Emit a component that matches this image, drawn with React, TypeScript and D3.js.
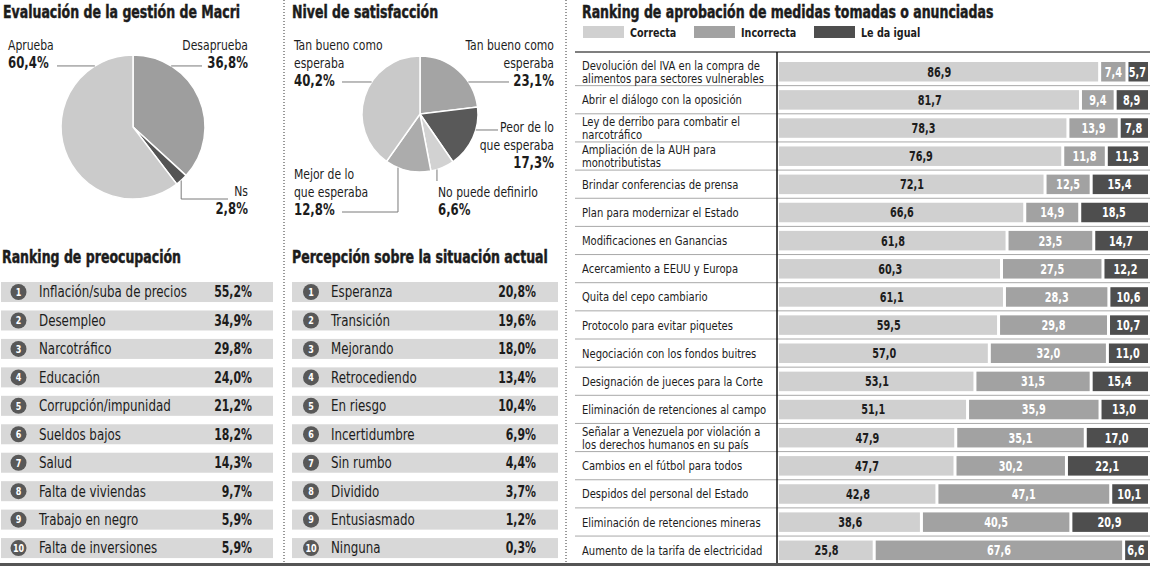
import { useEffect, useRef } from 'react';
import * as d3 from 'd3';

// Palette
const INK = "#1c1c1c";
const SHADE_LIGHT = "#d0d0d0";
const SHADE_MID = "#a2a2a2";
const SHADE_DARK = "#4e4e4e";
const ROW_BG = "#d8d8d8";
const BADGE = "#585858";
const RULE = "#a8a8a8";
const FONT = "'Liberation Sans Narrow', 'DejaVu Sans Condensed', 'Roboto Condensed', 'Open Sans', sans-serif";

// horizontal squeeze per text style, to get a condensed face out of a regular one
const SQ_TITLE = 0.82;
const SQ_LABEL = 0.88;
const SQ_VALUE = 0.81;
const SQ_TABLE = 0.89;
const SQ_BAR = 0.8;

const W = 1150;
const H = 566;

// Evaluación de la gestión de Macri
const gestionLabels = [["Desaprueba"], ["Ns"], ["Aprueba"]];
const gestionValues = [36.8, 2.8, 60.4];
const gestionColors = ["#9e9e9e", "#545454", "#cbcbcb"];

// Nivel de satisfacción
const satisfLabels = [
  ["Tan bueno como", "esperaba"],
  ["Peor de lo", "que esperaba"],
  ["No puede definirlo"],
  ["Mejor de lo", "que esperaba"],
  ["Tan bueno como", "esperaba"],
];
const satisfValues = [23.1, 17.3, 6.6, 12.8, 40.2];
const satisfColors = ["#a4a4a4", "#595959", "#d2d2d2", "#acacac", "#c9c9c9"];

// Ranking de preocupación
const preocupacionLabels = [
  "Inflación/suba de precios", "Desempleo", "Narcotráfico", "Educación",
  "Corrupción/impunidad", "Sueldos bajos", "Salud", "Falta de viviendas",
  "Trabajo en negro", "Falta de inversiones",
];
const preocupacionValues = [55.2, 34.9, 29.8, 24.0, 21.2, 18.2, 14.3, 9.7, 5.9, 5.9];

// Percepción sobre la situación actual
const percepcionLabels = [
  "Esperanza", "Transición", "Mejorando", "Retrocediendo", "En riesgo",
  "Incertidumbre", "Sin rumbo", "Dividido", "Entusiasmado", "Ninguna",
];
const percepcionValues = [20.8, 19.6, 18.0, 13.4, 10.4, 6.9, 4.4, 3.7, 1.2, 0.3];

// Ranking de aprobación de medidas
const medidasLabels = [
  ["Devolución del IVA en la compra de", "alimentos para sectores vulnerables"],
  ["Abrir el diálogo con la oposición"],
  ["Ley de derribo para combatir el", "narcotráfico"],
  ["Ampliación de la AUH para", "monotributistas"],
  ["Brindar conferencias de prensa"],
  ["Plan para modernizar el Estado"],
  ["Modificaciones en Ganancias"],
  ["Acercamiento a EEUU y Europa"],
  ["Quita del cepo cambiario"],
  ["Protocolo para evitar piquetes"],
  ["Negociación con los fondos buitres"],
  ["Designación de jueces para la Corte"],
  ["Eliminación de retenciones al campo"],
  ["Señalar a Venezuela por violación a", "los derechos humanos en su país"],
  ["Cambios en el fútbol para todos"],
  ["Despidos del personal del Estado"],
  ["Eliminación de retenciones mineras"],
  ["Aumento de la tarifa de electricidad"],
];
const correcta = [86.9, 81.7, 78.3, 76.9, 72.1, 66.6, 61.8, 60.3, 61.1, 59.5, 57.0, 53.1, 51.1, 47.9, 47.7, 42.8, 38.6, 25.8];
const incorrecta = [7.4, 9.4, 13.9, 11.8, 12.5, 14.9, 23.5, 27.5, 28.3, 29.8, 32.0, 31.5, 35.9, 35.1, 30.2, 47.1, 40.5, 67.6];
const leDaIgual = [5.7, 8.9, 7.8, 11.3, 15.4, 18.5, 14.7, 12.2, 10.6, 10.7, 11.0, 15.4, 13.0, 17.0, 22.1, 10.1, 20.9, 6.6];
const seriesNames = ["Correcta", "Incorrecta", "Le da igual"];
const seriesColors = [SHADE_LIGHT, SHADE_MID, SHADE_DARK];

const fmt = (v: number) => d3.format(".1f")(v).replace(".", ",");
const pct = (v: number) => fmt(v) + "%";

// where each pie callout sits: angle on the rim (deg), text anchor and leader legs
const gestionNotes = [
  { x: 248, y: 50, anchor: "end", angle: 32, legs: [["h", 202]] },
  { x: 248, y: 196, anchor: "end", angle: 138, legs: [["v", 199], ["h", 228]] },
  { x: 8, y: 50, anchor: "start", angle: 328, legs: [["h", 57]] },
];
const satisfNotes = [
  { x: 554, y: 50, anchor: "end", angle: 56.5, legs: [["h", 509]] },
  { x: 554, y: 132, anchor: "end", angle: 106, legs: [["h", 498]] },
  { x: 438, y: 197, anchor: "start", angle: 163, legs: [["v", 181]] },
  { x: 294, y: 179, anchor: "start", angle: 202.3, legs: [["v", 212], ["h", 342]] },
  { x: 294, y: 50, anchor: "start", angle: 303.5, legs: [["h", 342]] },
];

// squeeze text horizontally around its own x anchor
function squeeze(sel: any, k: number) {
  sel.attr("transform", function (this: any) {
    const x = +this.getAttribute("x") || 0;
    return `translate(${x},0) scale(${k},1) translate(${-x},0)`;
  });
}

function title(svg: any, x: number, y: number, text: string) {
  const t = svg.append("text")
    .attr("x", x).attr("y", y)
    .attr("font-size", 17).attr("font-weight", 700)
    .attr("fill", INK)
    .attr("stroke", INK).attr("stroke-width", 0.45)
    .text(text);
  squeeze(t, SQ_TITLE);
}

function drawPie(svg: any, cx: number, cy: number, r: number, values: number[], colors: string[], labels: string[][], notes: any[]) {
  const pie = d3.pie<number>().sort(null).value(d => d);
  const arc = d3.arc<any>().innerRadius(0).outerRadius(r);
  const g = svg.append("g").attr("transform", `translate(${cx},${cy})`);

  g.selectAll("path")
    .data(pie(values))
    .join("path")
    .attr("d", arc)
    .attr("fill", (_: any, i: number) => colors[i])
    .attr("stroke", "#fff")
    .attr("stroke-width", 1.5);

  notes.forEach((n, i) => {
    const a = (n.angle * Math.PI) / 180;
    let px = cx + r * Math.sin(a);
    let py = cy - r * Math.cos(a);
    const pts: [number, number][] = [[px, py]];
    n.legs.forEach(([dir, to]: [string, number]) => {
      if (dir === "h") px = to; else py = to;
      pts.push([px, py]);
    });
    svg.append("path")
      .attr("d", d3.line()(pts))
      .attr("fill", "none")
      .attr("stroke", "#7a7a7a")
      .attr("stroke-width", 1);

    const t = svg.append("text")
      .attr("x", n.x).attr("y", n.y)
      .attr("text-anchor", n.anchor)
      .attr("fill", INK)
      .attr("font-size", 14);
    labels[i].forEach((line, k) => {
      t.append("tspan").attr("x", n.x).attr("dy", k === 0 ? 0 : 18).text(line);
    });
    squeeze(t, 0.86);
    const v = svg.append("text")
      .attr("x", n.x).attr("y", n.y + labels[i].length * 18)
      .attr("text-anchor", n.anchor)
      .attr("fill", INK)
      .attr("font-size", 15).attr("font-weight", 700)
      .text(pct(values[i]));
    squeeze(v, 0.87);
  });
}

function drawRanking(svg: any, x0: number, x1: number, badgeX: number, labelX: number, valueX: number, labels: string[], values: number[]) {
  const y = d3.scaleBand<number>().domain(d3.range(labels.length)).range([277.8, 562.3]);
  const rows = svg.append("g")
    .selectAll("g")
    .data(labels)
    .join("g")
    .attr("transform", (_: any, i: number) => `translate(0,${y(i)! + y.bandwidth() / 2})`);

  rows.append("rect")
    .attr("x", x0).attr("y", -10)
    .attr("width", x1 - x0).attr("height", 20)
    .attr("fill", ROW_BG);

  rows.append("circle")
    .attr("cx", badgeX).attr("r", 8)
    .attr("fill", BADGE);

  const num = rows.append("text")
    .attr("x", badgeX).attr("dy", "0.36em")
    .attr("text-anchor", "middle")
    .attr("fill", "#fff")
    .attr("font-size", 10.5).attr("font-weight", 700)
    .text((_: any, i: number) => i + 1);
  squeeze(num, 0.85);

  const lab = rows.append("text")
    .attr("x", labelX).attr("dy", "0.36em")
    .attr("fill", INK)
    .attr("font-size", 15)
    .text((d: string) => d);
  squeeze(lab, SQ_LABEL);

  const val = rows.append("text")
    .attr("x", valueX).attr("dy", "0.36em")
    .attr("text-anchor", "end")
    .attr("fill", INK)
    .attr("font-size", 15).attr("font-weight", 700)
    .text((_: any, i: number) => pct(values[i]));
  squeeze(val, SQ_VALUE);
}

function drawMedidas(svg: any) {
  const tableTop = 52;
  const axisX = 777;
  const y = d3.scaleBand<number>().domain(d3.range(medidasLabels.length)).range([57, 563.7]);
  const x = d3.scaleLinear().domain([0, 100]).range([779, 1148]);

  // legend
  const legendX = [583, 694, 814];
  seriesNames.forEach((name, i) => {
    svg.append("rect")
      .attr("x", legendX[i]).attr("y", 26)
      .attr("width", 41).attr("height", 12)
      .attr("fill", seriesColors[i]);
    const t = svg.append("text")
      .attr("x", legendX[i] + 47).attr("y", 37)
      .attr("fill", INK)
      .attr("font-size", 13).attr("font-weight", 700)
      .text(name);
    squeeze(t, 0.82);
  });

  // row separators
  svg.append("g")
    .selectAll("line")
    .data(d3.range(1, medidasLabels.length))
    .join("line")
    .attr("x1", 575).attr("x2", W)
    .attr("y1", (i: number) => y(i)! + 0.5).attr("y2", (i: number) => y(i)! + 0.5)
    .attr("stroke", RULE).attr("stroke-width", 1);

  svg.append("line")
    .attr("x1", 575).attr("x2", W)
    .attr("y1", tableTop).attr("y2", tableTop)
    .attr("stroke", "#555").attr("stroke-width", 1.5);

  const stacked = d3.stack<number>()
    .keys(["0", "1", "2"])
    .value((i, key) => [correcta, incorrecta, leDaIgual][+key][i])(d3.range(medidasLabels.length));

  stacked.forEach((layer, s) => {
    const g = svg.append("g");
    g.selectAll("rect")
      .data(layer)
      .join("rect")
      .attr("x", (d: any) => x(d[0]) + (s > 0 ? 1.5 : 0))
      .attr("y", (_: any, i: number) => y(i)! + 5)
      .attr("width", (d: any) => x(d[1]) - x(d[0]) - (s > 0 ? 1.5 : 0) - (s < 2 ? 1.5 : 0))
      .attr("height", 19.5)
      .attr("fill", seriesColors[s]);
    const t = g.selectAll("text")
      .data(layer)
      .join("text")
      .attr("x", (d: any) => (x(d[0]) + x(d[1])) / 2)
      .attr("y", (_: any, i: number) => y(i)! + 14.75)
      .attr("dy", "0.36em")
      .attr("text-anchor", "middle")
      .attr("fill", s === 0 ? INK : "#fff")
      .attr("font-size", 13.5).attr("font-weight", 700)
      .text((d: any) => fmt(d[1] - d[0]));
    squeeze(t, SQ_BAR);
  });

  // row labels, one or two lines each
  const labels = svg.append("g")
    .selectAll("text")
    .data(medidasLabels)
    .join("text")
    .attr("x", 582)
    .attr("fill", INK)
    .attr("font-size", 12.5)
    .attr("y", (d: string[], i: number) => y(i)! + 14.75 - (d.length - 1) * 6.5);
  labels.each(function (this: any, d: string[]) {
    const t = d3.select(this);
    d.forEach((line, k) => {
      t.append("tspan").attr("x", 582).attr("dy", k === 0 ? "0.36em" : 13).text(line);
    });
  });
  squeeze(labels, SQ_TABLE);

  svg.append("line")
    .attr("x1", axisX).attr("x2", axisX)
    .attr("y1", tableTop).attr("y2", 564)
    .attr("stroke", "#111").attr("stroke-width", 1.5);
}

export default function App() {
  const ref = useRef<SVGSVGElement>(null);

  useEffect(() => {
    if (!ref.current) return;
    const svg = d3.select(ref.current);
    svg.selectAll("*").remove();
    svg.attr("font-family", FONT);

    svg.append("rect").attr("width", W).attr("height", H).attr("fill", "#fff");

    // dotted column dividers
    [284, 566].forEach(xv => {
      svg.append("line")
        .attr("x1", xv).attr("x2", xv)
        .attr("y1", 0).attr("y2", 562)
        .attr("stroke", "#333")
        .attr("stroke-width", 1)
        .attr("stroke-dasharray", "1,2");
    });

    title(svg, 3, 18, "Evaluación de la gestión de Macri");
    title(svg, 292, 18, "Nivel de satisfacción");
    title(svg, 2, 263, "Ranking de preocupación");
    title(svg, 292, 263, "Percepción sobre la situación actual");
    title(svg, 582, 18, "Ranking de aprobación de medidas tomadas o anunciadas");

    drawPie(svg, 133, 127, 72, gestionValues, gestionColors, gestionLabels, gestionNotes);
    drawPie(svg, 420, 114, 58, satisfValues, satisfColors, satisfLabels, satisfNotes);

    drawRanking(svg, 1, 273, 18.5, 39, 252, preocupacionLabels, preocupacionValues);
    drawRanking(svg, 292, 558, 311, 331, 536, percepcionLabels, percepcionValues);

    drawMedidas(svg);

    // bottom rule
    svg.append("line")
      .attr("x1", 0).attr("x2", W)
      .attr("y1", 564.5).attr("y2", 564.5)
      .attr("stroke", "#555").attr("stroke-width", 3);
  }, []);

  return (
    <svg
      ref={ref}
      width={W}
      height={H}
      style={{ position: 'absolute', left: 0, top: 0, display: 'block' }}
    />
  );
}
